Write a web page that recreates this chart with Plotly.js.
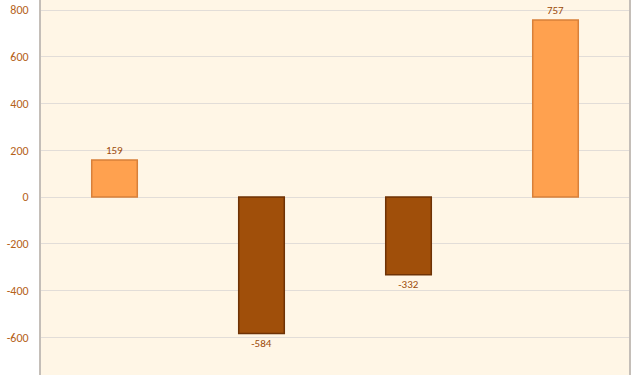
<!DOCTYPE html>
<html>
<head>
<meta charset="utf-8">
<script src="https://cdn.plot.ly/plotly-3.0.1.min.js"></script>
<style>html,body{margin:0;padding:0;background:#fff;}#chart{width:640px;height:375px;}</style>
</head>
<body>
<div id="chart"></div>
<script>
const categories = ["A", "B", "C", "D"];
const values = [159, -584, -332, 757];
const labels = ["159", "-584", "-332", "757"];
const tickVals = [-600, -400, -200, 0, 200, 400, 600, 800];

const fillColors = values.map(v => v >= 0 ? "#FFA14F" : "#A04F0A");
const lineColors = values.map(v => v >= 0 ? "#D8803A" : "#6E3205");

const trace = {
  type: "bar",
  x: categories,
  y: values,
  text: labels,
  textposition: "outside",
  cliponaxis: false,
  textfont: {family: "Calibri, Carlito, Lato, sans-serif", size: 11, color: "#9C4A08"},
  marker: {color: fillColors, line: {color: lineColors, width: 1.5}},
  width: 0.31,
  hoverinfo: "skip"
};

const layout = {
  width: 640, height: 375,
  margin: {l: 41, r: 11, t: 0, b: 0, pad: 0},
  paper_bgcolor: "#FFFFFF",
  plot_bgcolor: "#FFF6E6",
  showlegend: false,
  xaxis: {showticklabels: false, showgrid: false, zeroline: false, showline: false, ticks: ""},
  yaxis: {
    range: [-761, 843],
    tickvals: tickVals,
    ticktext: tickVals.map(String),
    showgrid: true, gridcolor: "#E2DDD8", gridwidth: 1,
    zeroline: true, zerolinecolor: "#E2DDD8", zerolinewidth: 1,
    showline: true, mirror: true, linecolor: "#C4BEB8", linewidth: 2,
    ticks: "", ticklen: 0,
    ticklabelstandoff: 8,
    tickfont: {family: "Calibri, Carlito, Lato, sans-serif", size: 12, color: "#B5621A"}
  }
};

Plotly.newPlot("chart", [trace], layout, {displayModeBar: false, staticPlot: true});
</script>
</body>
</html>
